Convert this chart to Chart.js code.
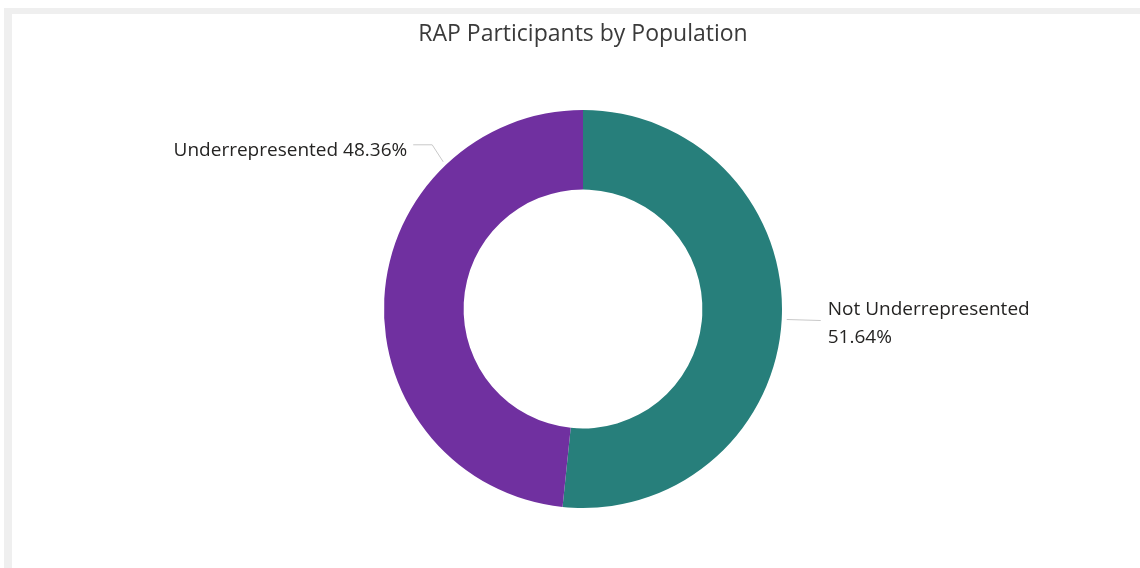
<!DOCTYPE html>
<html>
<head>
<meta charset="utf-8">
<title>RAP Participants by Population</title>
<script src="https://cdn.jsdelivr.net/npm/chart.js@4/dist/chart.umd.min.js"></script>
<style>
  html, body { margin: 0; padding: 0; background: #ffffff; }
  body { width: 1140px; height: 568px; overflow: hidden; position: relative; }
  .frame {
    position: absolute; left: 4px; top: 8px; right: 0; bottom: 0;
    background: #efefef;
  }
  .panel {
    position: absolute; left: 8px; top: 6px; right: 0; bottom: 0;
    background: #ffffff;
  }
  canvas { display: block; }
</style>
</head>
<body>
<div class="frame"><div class="panel"><canvas id="chart" width="1128" height="554"></canvas></div></div>
<script>
const chartTitle = 'RAP Participants by Population';
const categories = ['Not Underrepresented', 'Underrepresented'];
const shares = [51.64, 48.36];
const sliceColors = ['#277F7B', '#7030A0'];

const FONT = '"Open Sans", "Noto Sans", sans-serif';
const TEXT_COLOR = '#252423';
const LEADER_COLOR = '#c8c8c8';

// Outside labels with leader lines, placed the way the report lays them out:
// the first one hangs off the slice's mid-angle to the right (two lines),
// the second sits up and to the left on one line.
const outsideLabels = {
  id: 'outsideLabels',
  afterDatasetsDraw(chart) {
    const ctx = chart.ctx;
    const arcs = chart.getDatasetMeta(0).data;
    const fmt = v => v.toFixed(2) + '%';
    ctx.save();
    ctx.font = '19px ' + FONT;
    ctx.fillStyle = TEXT_COLOR;
    ctx.strokeStyle = LEADER_COLOR;
    ctx.lineWidth = 1;

    // Right label: from the mid-angle of the first slice, straight out.
    {
      const a = arcs[0];
      const mid = (a.startAngle + a.endAngle) / 2;
      const r = a.outerRadius + 5;
      const x0 = a.x + Math.cos(mid) * r;
      const y0 = a.y + Math.sin(mid) * r;
      const x1 = x0 + 34;
      ctx.beginPath();
      ctx.moveTo(x0, y0);
      ctx.lineTo(x1, y0 + 1);
      ctx.stroke();
      ctx.textAlign = 'left';
      ctx.textBaseline = 'middle';
      ctx.fillText(categories[0], x1 + 7, y0 - 10);
      ctx.fillText(fmt(shares[0]), x1 + 7, y0 + 18);
    }

    // Left label: anchored on the upper-left part of the second slice.
    {
      const a = arcs[1];
      const ang = a.endAngle - (a.endAngle - a.startAngle) * 0.25;
      const r = a.outerRadius + 4;
      const x0 = a.x + Math.cos(ang) * r;
      const y0 = a.y + Math.sin(ang) * r;
      const xk = x0 - 11;
      const yk = y0 - 17;
      const x2 = xk - 19;
      ctx.beginPath();
      ctx.moveTo(x0, y0);
      ctx.lineTo(xk, yk);
      ctx.lineTo(x2, yk);
      ctx.stroke();
      ctx.textAlign = 'right';
      ctx.textBaseline = 'middle';
      ctx.fillText(categories[1] + ' ' + fmt(shares[1]), x2 - 6, yk + 6);
    }
    ctx.restore();
  }
};

new Chart(document.getElementById('chart'), {
  type: 'doughnut',
  data: {
    labels: categories,
    datasets: [{
      data: shares,
      backgroundColor: sliceColors,
      borderWidth: 0,
      hoverOffset: 0
    }]
  },
  options: {
    responsive: false,
    animation: false,
    cutout: '60%',
    layout: { padding: { left: 14, right: 0, top: 0, bottom: 60 } },
    plugins: {
      legend: { display: false },
      tooltip: { enabled: false },
      title: {
        display: true,
        text: chartTitle,
        color: '#3a3a3a',
        font: { family: FONT, size: 23, weight: 'normal', lineHeight: 1.2 },
        padding: { top: 7, bottom: 61.4 }
      }
    }
  },
  plugins: [outsideLabels]
});
</script>
</body>
</html>
